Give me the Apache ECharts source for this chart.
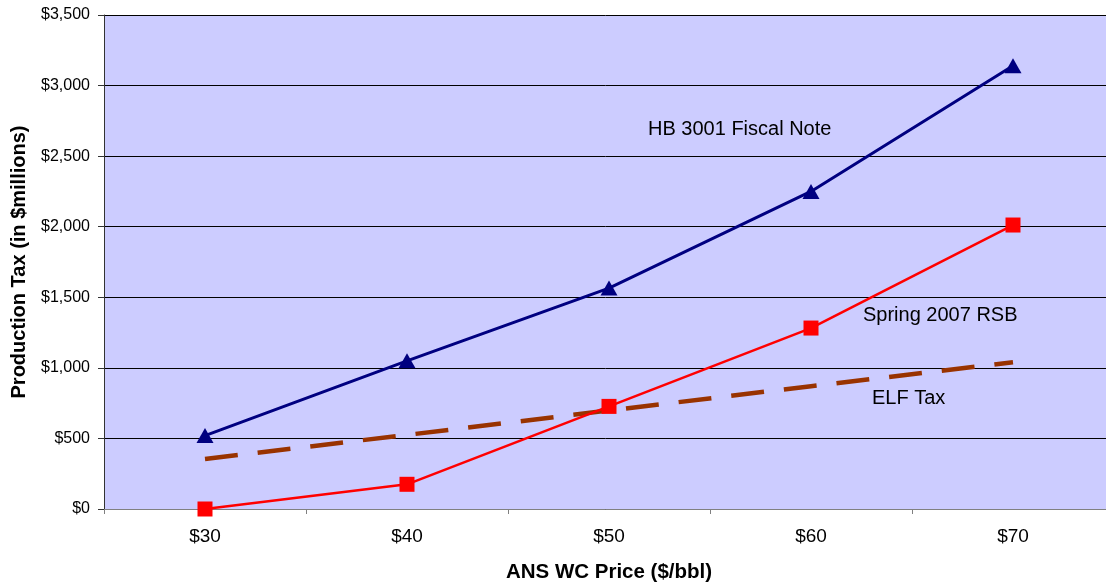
<!DOCTYPE html>
<html>
<head>
<meta charset="utf-8">
<title>Production Tax vs ANS WC Price</title>
<script src="https://cdn.jsdelivr.net/npm/echarts@6/dist/echarts.min.js"></script>
<style>
  html, body { margin: 0; padding: 0; background: #ffffff; overflow: hidden; }
  #chart { width: 1106px; height: 583px; }
</style>
</head>
<body>
<div id="chart"></div>
<script>
// Oil price scenarios ($/bbl)
const categories = ['$30', '$40', '$50', '$60', '$70'];

// Production tax revenue, $ millions
const hbFiscalNote = [520, 1050, 1565, 2250, 3140];
const spring2007RSB = [0, 175, 727, 1282, 2012];
const elfTax = [355, 525, 698, 870, 1040];

// Value axis settings
const yMin = 0;
const yMax = 3500;
const yStep = 500;

const FONT = '"Liberation Sans", Arial, Helvetica, sans-serif';

const chart = echarts.init(document.getElementById('chart'), null, { renderer: 'canvas' });

const fmtMoney = v => '$' + v.toLocaleString('en-US');

chart.setOption({
  animation: false,
  backgroundColor: '#ffffff',
  textStyle: { fontFamily: FONT },
  grid: {
    left: 104, top: 15, right: -8, bottom: 74,
    outerBoundsMode: 'none',
    containLabel: false,
    show: true,
    backgroundColor: '#CCCCFF',
    borderWidth: 0
  },
  xAxis: {
    type: 'category',
    data: categories,
    boundaryGap: true,
    name: 'ANS WC Price ($/bbl)',
    nameLocation: 'middle',
    nameGap: 53,
    nameTextStyle: { fontFamily: FONT, fontSize: 20.5, fontWeight: 'bold', color: '#000000' },
    axisLine: { show: true, lineStyle: { color: '#808080', width: 1 } },
    axisTick: { show: true, inside: false, length: 5, alignWithLabel: false, lineStyle: { color: '#808080' } },
    axisLabel: { fontFamily: FONT, fontSize: 19, color: '#000000', margin: 18 },
    splitLine: { show: false }
  },
  yAxis: {
    type: 'value',
    min: yMin,
    max: yMax,
    interval: yStep,
    name: 'Production Tax (in $millions)',
    nameLocation: 'middle',
    nameGap: 75,
    nameTextStyle: { fontFamily: FONT, fontSize: 20, fontWeight: 'bold', color: '#000000' },
    axisLine: { show: true, lineStyle: { color: '#333333', width: 1 } },
    axisTick: { show: true, inside: false, length: 6, lineStyle: { color: '#333333' } },
    axisLabel: { fontFamily: FONT, fontSize: 16, color: '#000000', margin: 14, formatter: fmtMoney },
    splitLine: { show: true, lineStyle: { color: '#000000', width: 1 } }
  },
  series: [
    {
      name: 'ELF Tax',
      type: 'line',
      data: elfTax,
      symbol: 'none',
      lineStyle: { color: '#993300', width: 4.5, type: [33, 20] },
      z: 2
    },
    {
      name: 'HB 3001 Fiscal Note',
      type: 'line',
      data: hbFiscalNote,
      symbol: 'triangle',
      symbolSize: [17, 15],
      itemStyle: { color: '#000080' },
      lineStyle: { color: '#000080', width: 3 },
      z: 3
    },
    {
      name: 'Spring 2007 RSB',
      type: 'line',
      data: spring2007RSB,
      symbol: 'rect',
      symbolSize: 15,
      clip: false,
      itemStyle: { color: '#FF0000' },
      lineStyle: { color: '#FF0000', width: 2.5 },
      z: 4
    }
  ],
  graphic: [
    {
      type: 'text', left: 648, top: 119,
      style: { text: 'HB 3001 Fiscal Note', fontFamily: FONT, fontSize: 20, fill: '#000000' }
    },
    {
      type: 'text', left: 863, top: 305,
      style: { text: 'Spring 2007 RSB', fontFamily: FONT, fontSize: 20, fill: '#000000' }
    },
    {
      type: 'text', left: 872, top: 388,
      style: { text: 'ELF Tax', fontFamily: FONT, fontSize: 20, fill: '#000000' }
    }
  ]
});
</script>
</body>
</html>
